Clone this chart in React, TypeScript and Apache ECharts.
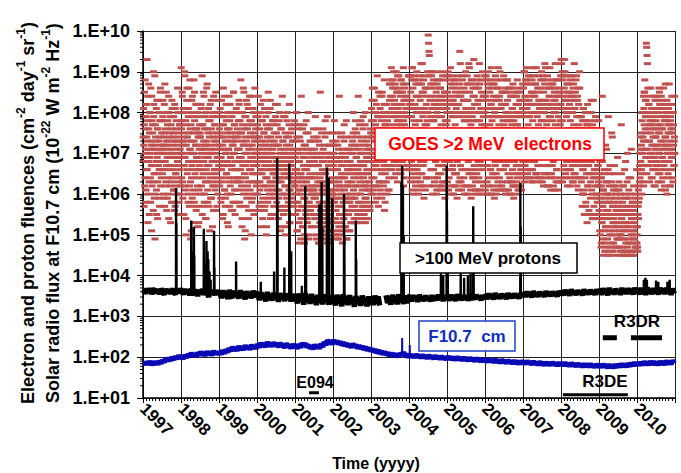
import React, { useEffect, useRef } from 'react';
import * as echarts from 'echarts';

const FONT = '"Liberation Sans", Arial, Helvetica, sans-serif';

// X axis: years (decimal), tick labels 1997..2010
const X_MIN = 1997;
const X_MAX = 2011;
const YEAR_LABELS = [1997, 1998, 1999, 2000, 2001, 2002, 2003, 2004, 2005, 2006, 2007, 2008, 2009, 2010];

// Y axis: decades (log), minor tick multipliers
const Y_MIN = 10;
const Y_MAX = 1e10;
const DECADES = [1, 2, 3, 4, 5, 6, 7, 8, 9];
const MINOR_MULTIPLIERS = [2, 3, 4, 5, 6, 7, 8, 9];

// GOES >2 MeV electrons: one string per half-year, values are log10 x 10 (first pass)
const ELECTRONS_A: string[] = [
  '74 81 69 77 62 88 71 58 79 66 93 73 84 60 68 76 55 80 70 64 86 72 51 78 67 75 63 90 82 59 71 49 77 65 73 61 83 69 54 76 70 80 66 57 74 85 62 72 68 78',
  '78 70 83 66 72 59 75 87 68 62 80 73 56 69 77 64 71 84 60 74 67 79 53 70 63 76 81 58 72 66 75 61 69 82 57 73 65 78 62 71 68 80 55 74 64 70 77 60 67 73',
  '91 76 69 84 63 72 80 55 67 90 74 61 78 50 70 86 65 73 58 81 68 75 62 88 71 49 77 64 83 59 70 66 79 53 73 85 60 68 76 57 72 82 64 69 52 75 79 61 67 74',
  '75 68 82 62 71 89 57 77 65 73 84 60 69 79 54 72 66 86 63 76 58 70 81 67 74 51 78 64 71 83 59 68 75 62 80 56 73 66 77 61 70 85 65 72 57 79 68 63 74 69',
  '72 80 66 75 59 69 83 63 77 54 71 86 67 74 61 79 57 70 82 65 73 60 76 68 52 71 84 64 78 62 69 75 56 80 67 73 58 72 85 63 70 77 55 74 66 81 61 68 76 64',
  '74 66 83 71 58 78 63 88 69 75 52 80 67 72 61 85 76 49 70 64 79 57 73 68 82 62 77 54 71 66 84 60 75 69 50 78 65 72 59 81 67 74 63 70 86 56 76 68 62 73',
  '70 77 63 84 68 57 74 61 80 66 72 52 78 65 71 59 83 69 75 56 67 73 62 79 50 70 64 76 58 85 68 72 60 66 81 54 74 63 69 77 61 71 55 78 65 73 67 59 82 64',
  '68 75 61 82 66 54 72 59 78 64 70 51 76 63 69 57 84 67 73 55 65 71 60 79 52 68 62 74 56 80 66 70 58 64 77 53 72 61 67 75 59 69 55 73 63 71 65 57 78 62',
  '66 73 58 80 63 51 70 56 76 61 68 48 74 60 65 54 84 64 71 52 62 69 57 77 50 66 59 72 55 78 63 67 53 61 75 49 70 58 64 73 56 67 52 71 60 69 62 55 76 59',
  '64 71 57 79 62 49 69 55 74 60 67 48 73 58 65 53 85 63 70 51 61 68 56 76 50 65 58 72 54 78 62 66 52 60 75 48 69 57 63 72 55 67 51 70 59 68 61 54 75 58',
  '63 70 56 78 61 50 68 54 73 59 66 49 72 57 64 52 84 62 69 53 60 67 55 75 51 64 58 71 54 77 61 65 52 59 74 49 68 56 62 71 55 66 51 70 58 67 60 53 74 57',
  '66 73 59 80 64 54 71 57 76 62 69 53 75 60 67 56 84 65 72 55 63 70 58 78 54 67 61 74 57 79 64 68 56 62 77 53 71 59 65 73 57 69 54 72 61 70 63 56 76 60',
  '74 81 66 86 70 60 78 64 83 68 76 58 80 67 73 62 89 71 79 57 69 75 63 84 61 72 66 79 59 85 70 74 62 68 82 56 77 65 71 80 63 75 60 78 67 73 69 61 87 66',
  '80 87 72 91 76 66 84 70 88 74 82 64 86 73 79 68 90 77 85 63 75 81 69 89 67 78 72 85 65 88 76 80 68 74 87 62 83 71 77 86 69 81 66 84 73 79 75 67 89 72',
  '82 76 89 70 85 64 79 91 73 67 86 60 81 75 88 69 77 63 84 72 90 66 80 74 61 87 71 78 65 83 68 92 76 62 85 73 79 67 88 59 81 70 86 74 64 82 77 69 84 71',
  '99 97 95 94 86 79 72 84 66 89 75 81 62 87 70 78 90 64 83 73 68 85 60 80 76 88 71 65 82 74 79 61 86 69 77 84 63 72 89 67 81 75 70 85 59 78 66 83 73 80',
  '78 85 70 89 74 64 82 68 87 72 80 60 86 76 66 83 71 79 62 88 69 77 84 65 81 73 59 86 75 70 82 63 79 95 72 67 84 74 61 80 88 69 76 83 64 78 71 85 66 81',
  '80 74 87 69 83 62 78 92 71 85 66 81 76 59 88 73 79 64 84 70 93 67 82 75 61 86 72 78 65 89 70 83 76 60 80 74 87 68 81 63 85 77 71 90 66 79 73 84 69 76',
  '77 84 70 88 73 63 81 67 86 72 79 60 85 75 66 82 91 69 78 62 87 71 83 74 59 80 68 89 76 65 84 72 79 61 86 70 77 83 64 90 73 68 81 75 62 85 70 78 66 82',
  '79 72 85 67 82 61 76 88 70 83 65 80 74 60 86 71 78 63 84 69 77 81 66 87 73 59 79 68 84 75 62 82 70 77 64 85 72 80 67 74 61 83 76 69 86 65 79 71 81 68',
  '80 86 73 90 76 67 83 70 88 74 81 64 87 77 69 84 72 79 66 89 75 82 71 85 63 78 91 70 84 76 68 80 74 87 65 82 72 79 86 69 77 83 64 81 75 70 88 73 78 67',
  '82 76 88 71 85 65 80 92 74 86 69 83 77 62 89 73 81 67 84 75 91 70 79 86 64 82 72 78 87 68 80 74 85 61 83 77 70 88 66 81 75 84 63 79 72 86 69 78 82 73',
  '93 92 84 78 88 72 81 67 86 75 90 70 83 64 79 87 73 80 66 85 76 69 82 62 78 89 71 84 74 67 80 86 63 77 83 70 81 65 76 88 72 79 68 84 74 61 82 77 70 86',
  '74 68 79 63 72 57 76 66 81 60 70 55 75 64 78 58 69 73 53 77 62 67 80 56 71 65 74 59 68 83 61 72 54 76 64 70 57 66 78 62 73 55 69 60 75 58 67 71 63 65',
  '62 55 68 50 59 47 64 53 84 57 45 61 51 66 48 58 54 72 46 60 52 63 49 56 79 45 58 51 65 47 55 60 50 75 46 57 53 62 48 54 67 45 59 52 56 47 61 50 55 49',
  '58 52 63 47 56 45 60 50 77 54 46 57 49 62 45 53 51 66 46 55 48 59 45 52 70 47 55 49 61 46 53 57 48 64 45 54 50 58 46 51 56 45 55 49 53 47 60 48 52 46',
  '50 47 55 61 58 66 63 70 68 74 65 72 60 78 71 67 73 62 85 80 88 76 83 71 97 96 94 92 86 79 67 82 73 77 69 84 75 64 81 70 78 66 80 72 62 76 69 83 74 67',
  '78 72 84 67 80 63 75 86 70 82 65 77 73 61 81 69 76 64 83 71 68 79 62 74 87 66 78 72 60 80 70 75 64 82 68 77 73 62 79 71 66 84 69 76 63 80 72 67 74 70',
];

// GOES >2 MeV electrons, second pass (interleaved days), log10 x 10
const ELECTRONS_B: string[] = [
  '68 79 72 57 85 64 76 70 61 82 74 66 78 53 71 87 63 75 69 80 58 73 67 84 62 77 71 56 79 65 72 89 60 74 68 81 55 70 76 63 83 67 73 59 78 66 86 71 64 75',
  '71 65 79 60 74 68 82 57 70 76 63 85 67 72 59 78 66 73 54 80 69 75 62 71 77 58 83 64 70 74 61 79 67 56 73 81 65 69 76 60 72 86 63 68 75 58 77 66 71 62',
  '70 78 64 85 73 59 81 67 75 62 89 69 77 54 72 83 66 74 60 79 68 86 57 71 76 63 80 51 73 67 84 61 75 70 88 58 78 65 72 82 56 69 76 62 80 74 66 53 71 77',
  '66 74 60 81 70 77 55 72 64 85 68 58 76 71 63 80 54 73 67 87 61 75 69 78 57 72 65 82 59 70 76 63 79 52 74 68 84 62 71 66 77 56 73 80 64 69 75 60 83 67',
  '69 76 62 81 71 58 74 66 79 64 72 55 77 68 84 61 73 59 70 78 65 75 53 80 67 71 63 76 57 82 69 74 60 66 79 72 56 70 85 64 77 61 68 73 58 75 66 80 63 71',
  '71 78 64 82 69 57 75 66 80 62 73 54 77 68 86 60 72 65 79 51 74 67 83 59 70 76 63 81 56 72 68 78 61 74 66 84 58 71 77 63 69 80 55 73 65 75 60 79 67 70',
  '67 74 60 79 65 71 56 76 63 82 69 58 73 66 78 54 70 62 75 68 81 57 72 64 77 52 69 74 61 80 66 71 59 76 63 83 67 55 73 70 62 78 65 69 57 75 72 60 66 79',
  '65 72 58 77 63 69 54 74 61 80 67 56 71 64 76 52 68 60 73 66 79 55 70 62 75 50 67 72 59 78 64 69 57 74 61 82 65 53 71 68 60 76 63 67 55 73 70 58 64 77',
  '62 69 55 74 60 66 51 71 58 77 64 53 68 61 73 49 65 57 70 63 76 52 67 59 72 48 64 69 56 75 61 66 54 71 58 80 62 50 68 65 57 73 60 64 52 70 67 55 61 74',
  '61 68 54 73 59 65 50 70 57 76 63 52 67 60 72 48 64 56 69 62 75 51 66 58 71 49 63 68 55 74 60 65 53 70 57 79 61 49 67 64 56 72 59 63 51 69 66 54 60 73',
  '60 67 53 72 58 64 50 69 56 75 62 51 66 59 71 49 63 55 68 61 74 50 65 57 70 48 62 67 54 73 59 64 52 69 56 78 60 49 66 63 55 71 58 62 51 68 65 53 59 72',
  '63 70 56 75 61 67 53 72 59 78 65 54 69 62 74 55 66 58 71 64 77 53 68 60 73 56 65 70 57 76 62 67 55 72 59 80 63 54 69 66 58 74 61 65 56 71 68 57 62 75',
  '71 78 64 83 69 75 61 80 67 86 73 62 77 70 82 59 74 66 79 72 85 63 76 68 81 60 73 78 65 84 71 76 63 80 67 88 72 58 77 74 66 82 69 73 61 79 75 64 70 83',
  '77 84 70 88 75 81 67 86 73 90 79 68 83 76 87 65 80 72 85 78 89 69 82 74 86 66 79 84 71 88 77 82 69 85 73 91 78 64 83 80 72 87 75 79 67 84 81 70 76 89',
  '79 66 72 89 63 83 68 88 61 91 81 70 65 78 89 66 82 62 87 80 67 71 84 64 88 60 81 69 73 89 63 84 70 87 65 92 80 62 85 68 74 89 77 61 69 86 64 72 78 90',
  '80 64 73 89 62 83 69 87 66 90 81 70 60 78 88 66 82 63 86 79 68 71 84 61 87 64 81 67 72 88 62 83 70 86 65 90 79 62 84 67 73 88 63 82 68 85 61 71 77 89',
  '81 63 74 90 61 84 70 88 66 91 82 71 62 79 89 67 83 60 87 80 65 72 85 62 88 65 82 68 73 89 61 84 71 87 64 92 80 63 85 66 74 89 62 83 69 86 60 72 78 90',
  '79 62 72 89 60 83 68 87 65 91 80 69 61 77 88 65 81 62 86 78 64 70 84 60 87 63 80 66 71 88 61 82 68 86 64 92 78 61 83 67 72 88 60 81 67 84 62 70 76 89',
  '80 61 73 89 60 83 69 87 64 90 81 70 62 77 88 66 82 60 86 79 65 71 84 61 87 64 81 67 72 88 60 83 69 86 63 91 79 62 84 66 72 88 61 82 68 85 63 71 76 89',
  '77 61 70 86 60 80 67 85 63 88 78 68 61 75 86 64 79 60 84 76 63 69 81 62 85 62 78 65 70 86 60 80 67 84 63 88 77 61 82 65 70 85 62 79 66 83 61 69 74 87',
  '81 64 74 90 63 84 70 88 66 91 82 71 65 79 89 68 83 64 87 80 66 72 85 63 88 66 82 68 73 89 64 84 71 87 65 91 80 65 85 67 74 89 63 83 69 86 64 72 78 90',
  '80 63 74 89 62 83 70 87 65 91 81 71 64 78 88 67 82 62 86 79 65 72 84 61 87 65 81 67 73 88 62 83 70 86 64 92 80 63 84 66 73 88 61 82 69 85 63 71 77 89',
  '82 64 75 90 63 85 71 89 66 93 83 72 65 80 89 68 84 62 87 81 66 73 85 64 88 66 83 68 74 89 63 84 71 87 65 92 81 64 85 67 75 89 62 83 70 86 64 73 79 90',
  '70 76 64 79 67 73 60 78 66 81 71 61 75 68 80 57 72 65 77 69 82 62 74 67 78 55 71 76 63 80 68 73 60 77 65 83 70 54 75 71 64 79 66 72 59 76 73 62 67 78',
  '56 60 51 64 54 58 48 62 53 68 57 49 61 55 65 46 59 52 63 56 71 47 60 54 66 45 58 62 50 67 55 59 48 63 52 74 57 46 61 58 51 65 53 57 47 62 60 49 55 69',
  '53 57 49 61 51 55 46 59 50 65 54 47 58 52 62 45 56 49 60 53 68 46 57 51 63 45 55 59 48 64 52 56 46 60 50 71 54 45 58 55 49 62 51 54 46 59 57 47 52 66',
  '48 52 46 57 54 62 59 67 64 71 68 75 66 80 70 63 74 84 81 77 85 73 79 69 83 75 65 80 71 76 67 82 73 63 78 70 86 68 77 72 64 81 74 69 79 66 84 71 62 76',
  '74 80 68 83 71 77 65 81 70 85 75 66 79 72 84 63 76 69 82 73 86 67 78 71 80 61 74 79 68 83 72 77 65 81 70 87 75 62 78 76 69 82 71 75 64 80 77 67 73 84',
];

// >100 MeV protons baseline: one string per year, 24 values (log10 x 100), '-' = data gap
const PROTON_BASE: string[] = [
  '366 356 368 358 369 355 364 367 357 366 355 368 360 354 367 358 365 356 368 359 355 366 358 367',
  '363 354 367 357 365 352 368 358 355 366 350 364 356 367 353 363 357 348 365 355 362 353 364 356',
  '362 345 364 348 361 343 365 350 346 363 348 359 344 364 349 360 342 362 347 358 345 363 348 357',
  '356 340 359 343 354 337 360 342 353 339 358 344 355 336 357 341 352 338 356 343 351 337 355 342',
  '352 332 356 337 354 329 357 335 351 331 355 336 349 328 353 334 350 330 354 335 348 329 352 333',
  '349 327 353 332 351 325 354 331 348 328 352 333 346 324 350 330 347 326 351 331 345 325 349 329',
  '347 328 351 332 349 327 - - - 352 333 348 329 353 334 350 330 354 335 349 331 351 333 348',
  '349 337 352 339 350 336 353 340 348 338 351 341 349 337 352 339 350 340 353 341 349 338 351 342',
  '350 339 353 341 351 338 354 342 349 340 352 343 350 339 354 341 351 342 353 344 350 340 352 343',
  '353 343 356 345 354 342 357 346 352 344 355 347 353 343 357 346 354 345 356 347 354 344 357 348',
  '358 348 361 350 359 347 362 351 357 349 360 352 358 348 362 351 359 350 361 352 359 349 362 353',
  '362 352 365 354 363 351 366 355 361 353 364 356 362 352 366 355 363 354 365 356 363 353 366 357',
  '366 353 369 355 367 352 370 356 365 354 368 357 366 353 370 356 367 355 369 357 367 354 370 358',
  '367 354 370 356 368 353 371 357 366 355 369 358 367 354 370 357 368 355 370 358 366 353 368 356',
];

// Proton events: [decimal year, log10 fluence at peak]
const PROTON_SPIKES: [number, number][] = [
  [1997.87, 6.15], [1997.88, 5.3],
  [1998.27, 5.35], [1998.28, 4.6],
  [1998.34, 5.2], [1998.35, 4.5],
  [1998.6, 5.15], [1998.62, 4.3], [1998.67, 4.85], [1998.7, 4.6], [1998.72, 4.4], [1998.75, 4.1], [1998.78, 3.9],
  [1998.87, 5.1], [1998.88, 4.2],
  [1999.45, 4.35],
  [2000.1, 3.85],
  [2000.45, 4.1], [2000.53, 6.9], [2000.54, 5.8],
  [2000.72, 4.2],
  [2000.85, 6.75], [2000.86, 5.6], [2000.9, 4.6],
  [2001.18, 3.75],
  [2001.27, 6.2], [2001.29, 5.0],
  [2001.64, 5.75], [2001.66, 4.6],
  [2001.7, 6.3], [2001.72, 5.2],
  [2001.84, 6.65], [2001.85, 5.9], [2001.89, 6.4], [2001.9, 5.4], [2001.98, 5.9], [2001.99, 4.8],
  [2002.29, 6.0], [2002.3, 5.0],
  [2002.6, 5.35], [2002.61, 4.4],
  [2003.8, 6.3], [2003.82, 6.7], [2003.83, 5.8], [2003.84, 6.2], [2003.86, 5.0],
  [2004.84, 4.05], [2004.9, 4.0], [2004.99, 6.7], [2005.0, 5.6], [2005.02, 4.05],
  [2005.36, 4.05], [2005.45, 3.95], [2005.55, 4.0], [2005.62, 4.05], [2005.69, 5.7], [2005.7, 4.6],
  [2006.93, 6.27], [2006.94, 5.2],
  [2010.18, 3.9], [2010.22, 3.95], [2010.26, 3.9], [2010.5, 3.88], [2010.56, 3.85], [2010.8, 3.85], [2010.86, 3.9],
];

// F10.7 cm solar radio flux: one string per year, 24 values (log10 x 100)
const F107: string[] = [
  '187 183 188 184 189 182 187 184 188 183 190 185 193 188 197 191 198 192 200 194 202 196 204 198',
  '202 197 205 199 207 201 210 203 208 202 211 205 213 206 210 204 214 207 212 205 215 208 213 207',
  '213 207 217 209 219 212 222 215 225 217 223 216 227 219 225 218 229 221 226 219 230 222 228 221',
  '232 224 235 227 233 225 237 228 234 226 236 228 233 225 235 227 231 223 234 226 230 222 232 224',
  '229 221 232 224 234 228 233 225 230 222 228 220 231 223 229 221 233 225 237 230 241 236 239 232',
  '242 234 240 232 238 230 236 228 234 226 232 224 233 225 230 222 229 221 227 219 225 217 223 215',
  '221 213 219 211 217 209 215 207 213 206 211 204 210 203 209 202 208 201 209 205 212 204 207 200',
  '207 200 206 199 207 200 205 198 206 199 204 197 205 198 203 196 204 197 202 195 203 196 201 194',
  '202 195 201 194 200 193 201 194 199 192 200 193 198 191 199 192 197 190 198 191 196 189 197 190',
  '195 188 196 189 194 187 195 188 193 186 194 187 192 185 193 186 191 184 192 185 190 183 191 184',
  '190 183 191 184 189 182 190 183 188 181 189 182 187 180 188 181 187 180 188 181 186 179 187 180',
  '186 179 187 180 185 178 186 179 184 177 185 178 183 176 184 177 183 176 184 177 182 175 183 176',
  '182 175 183 176 181 174 182 175 181 174 182 175 183 176 184 177 183 176 185 178 186 179 187 180',
  '187 180 188 181 189 182 188 181 190 183 189 182 188 181 190 183 189 182 191 184 190 183 192 185',
];

// F10.7 short bursts: [decimal year, log10 flux]
const F107_SPIKES: [number, number][] = [[2001.29, 2.36], [2003.82, 2.47], [2004.02, 2.3]];

// Mission periods (decimal year, value)
const E094_SEG: [number, number][] = [[2001.37, 13.5], [2001.63, 13.5]];
const R3DE_SEG: [number, number][] = [[2008.05, 12], [2009.76, 12]];
const R3DR_SEG: [number, number][] = [[2009.1, 302], [2009.47, 302]];
const R3DR_SEG2: [number, number][] = [[2009.84, 302], [2010.66, 302]];

function buildElectrons(rows: string[], offset: number): [number, number][] {
  const out: [number, number][] = [];
  rows.forEach((s, k) => {
    const toks = s.trim().split(/\s+/);
    const start = X_MIN + k * 0.5;
    toks.forEach((tk, i) => {
      out.push([start + ((i + offset) / toks.length) * 0.5, Math.pow(10, Number(tk) / 10)]);
    });
  });
  return out;
}

function buildYearly(rows: string[]): [number, number | string][] {
  const out: [number, number | string][] = [];
  rows.forEach((s, j) => {
    const toks = s.trim().split(/\s+/);
    toks.forEach((tk, i) => {
      const t = X_MIN + j + (i + 0.5) / toks.length;
      out.push([t, tk === '-' ? '-' : Math.pow(10, Number(tk) / 100)]);
    });
  });
  return out;
}

// vertical bursts that start on the nearest base-line value
function buildSpikes(base: [number, number | string][], spikes: [number, number][]): [number, number | string][] {
  const valid = base.filter((p) => typeof p[1] === 'number') as [number, number][];
  const out: [number, number | string][] = [];
  spikes.forEach(([t, l]) => {
    let best = valid[0];
    valid.forEach((p) => {
      if (Math.abs(p[0] - t) < Math.abs(best[0] - t)) best = p;
    });
    out.push([t - 0.002, best[1]]);
    out.push([t, Math.pow(10, l)]);
    out.push([t + 0.003, best[1]]);
    out.push([t + 0.003, '-']);
  });
  return out;
}

export default function App() {
  const ref = useRef<HTMLDivElement>(null);

  useEffect(() => {
    if (!ref.current) return;
    const chart = echarts.init(ref.current, undefined, { renderer: 'svg' });

    const minorTicks: [number, number][] = [];
    DECADES.forEach((d) => MINOR_MULTIPLIERS.forEach((m) => minorTicks.push([X_MIN, m * Math.pow(10, d)])));

    const protonBase = buildYearly(PROTON_BASE);
    const f107Base = buildYearly(F107);

    const boxText = (x: number, y: number, text: string, color: string, size: number) => ({
      type: 'text',
      x,
      y,
      z: 101,
      style: {
        text,
        fill: color,
        font: `bold ${size}px ${FONT}`,
        align: 'center',
        verticalAlign: 'middle',
      },
    });
    const box = (x: number, y: number, w: number, h: number, stroke: string) => ({
      type: 'rect',
      z: 100,
      shape: { x, y, width: w, height: h },
      style: { fill: '#fff', stroke, lineWidth: 1.5 },
    });

    const titleRich = {
      b: { fontSize: 18, fontWeight: 'bold', fontFamily: FONT, fill: '#000', lineHeight: 22, verticalAlign: 'bottom' },
      s: { fontSize: 12, fontWeight: 'bold', fontFamily: FONT, fill: '#000', lineHeight: 12, verticalAlign: 'top' },
    };

    const segLine = (data: [number, number][], width: number) => ({
      type: 'line',
      data,
      showSymbol: false,
      silent: true,
      lineStyle: { color: '#000', width, cap: 'butt' },
      z: 5,
    });

    const electronSeries = (data: [number, number][]) => ({
      type: 'scatter',
      data,
      symbol: 'rect',
      symbolSize: [7, 3],
      itemStyle: { color: '#C0504D', opacity: 1 },
      silent: true,
      z: 2,
    });

    chart.setOption({
      animation: false,
      grid: { left: 143, right: 6, top: 31, bottom: 75, containLabel: false },
      xAxis: {
        type: 'value',
        min: X_MIN,
        max: X_MAX,
        interval: 1,
        axisLine: { lineStyle: { color: '#000', width: 1.5 } },
        axisTick: { show: true, length: 5, lineStyle: { color: '#000' } },
        minorTick: { show: true, splitNumber: 12, length: 3, lineStyle: { color: '#000' } },
        splitLine: { show: true, lineStyle: { color: '#222', width: 1 } },
        axisLabel: {
          rotate: -45,
          margin: 8,
          color: '#000',
          fontFamily: FONT,
          fontWeight: 'bold',
          fontSize: 17,
          formatter: (v: number) => (YEAR_LABELS.includes(Math.round(v)) ? String(Math.round(v)) : ''),
        },
      },
      yAxis: {
        type: 'log',
        logBase: 10,
        min: Y_MIN,
        max: Y_MAX,
        splitNumber: 9,
        axisLine: { show: true, lineStyle: { color: '#000', width: 1.5 } },
        axisTick: { show: true, length: 6, lineStyle: { color: '#000' } },
        splitLine: { show: true, lineStyle: { color: '#222', width: 1 } },
        axisLabel: {
          margin: 13,
          color: '#000',
          fontFamily: FONT,
          fontWeight: 'bold',
          fontSize: 18,
          formatter: (v: number) => {
            const e = Math.round(Math.log10(v));
            return '1.E+' + (e < 10 ? '0' : '') + e;
          },
        },
      },
      series: [
        electronSeries(buildElectrons(ELECTRONS_A, 0.5)),
        electronSeries(buildElectrons(ELECTRONS_B, 0)),
        {
          type: 'line',
          data: protonBase,
          showSymbol: false,
          connectNulls: false,
          silent: true,
          lineStyle: { color: '#000', width: 5.5 },
          z: 3,
        },
        {
          type: 'line',
          data: buildSpikes(protonBase, PROTON_SPIKES),
          showSymbol: false,
          connectNulls: false,
          silent: true,
          lineStyle: { color: '#000', width: 2.4 },
          z: 3,
        },
        {
          type: 'line',
          data: f107Base,
          showSymbol: false,
          silent: true,
          lineStyle: { color: '#0A0AB4', width: 5.5 },
          z: 4,
        },
        {
          type: 'line',
          data: buildSpikes(f107Base, F107_SPIKES),
          showSymbol: false,
          connectNulls: false,
          silent: true,
          lineStyle: { color: '#0A0AB4', width: 2 },
          z: 4,
        },
        segLine(E094_SEG, 3),
        segLine(R3DE_SEG, 3),
        segLine(R3DR_SEG, 5),
        segLine(R3DR_SEG2, 5),
        {
          type: 'custom',
          data: minorTicks,
          silent: true,
          clip: false,
          renderItem: (params: any, api: any) => {
            const p = api.coord([api.value(0), api.value(1)]);
            return {
              type: 'line',
              shape: { x1: p[0] - 3, y1: p[1], x2: p[0], y2: p[1] },
              style: { stroke: '#000', lineWidth: 1 },
            };
          },
          z: 6,
        },
      ],
      graphic: [
        {
          type: 'text',
          x: 26,
          y: 213,
          rotation: Math.PI / 2,
          z: 101,
          style: {
            text: '{b|Electron and proton fluences (cm}{s|-2}{b| day}{s|-1}{b| sr}{s|-1}{b|)}',
            rich: titleRich,
            align: 'center',
            verticalAlign: 'middle',
          },
        },
        {
          type: 'text',
          x: 51,
          y: 213,
          rotation: Math.PI / 2,
          z: 101,
          style: {
            text: '{b|Solar radio flux at F10.7 cm (10}{s|-22}{b| W m}{s|-2}{b| Hz}{s|-1}{b|)}',
            rich: titleRich,
            align: 'center',
            verticalAlign: 'middle',
          },
        },
        {
          type: 'text',
          x: 376,
          y: 463,
          z: 101,
          style: { text: 'Time (yyyy)', fill: '#000', font: `bold 16px ${FONT}`, align: 'center', verticalAlign: 'middle' },
        },
        box(375, 128, 229, 32, '#FF0000'),
        boxText(490, 144, 'GOES >2 MeV  electrons', '#FF0000', 17.5),
        box(400, 243, 177, 30, '#000'),
        boxText(488, 258, '>100 MeV protons', '#000', 17),
        box(419, 321, 96, 30, '#1F3FC8'),
        boxText(467, 336, 'F10.7  cm', '#1030C0', 17),
        boxText(315, 382, 'E094', '#000', 16),
        boxText(605, 381, 'R3DE', '#000', 17),
        boxText(637, 321, 'R3DR', '#000', 17),
      ],
    });

    return () => chart.dispose();
  }, []);

  return (
    <div
      ref={ref}
      style={{ position: 'fixed', left: 0, top: 0, width: 681, height: 473, background: '#fff' }}
    />
  );
}
